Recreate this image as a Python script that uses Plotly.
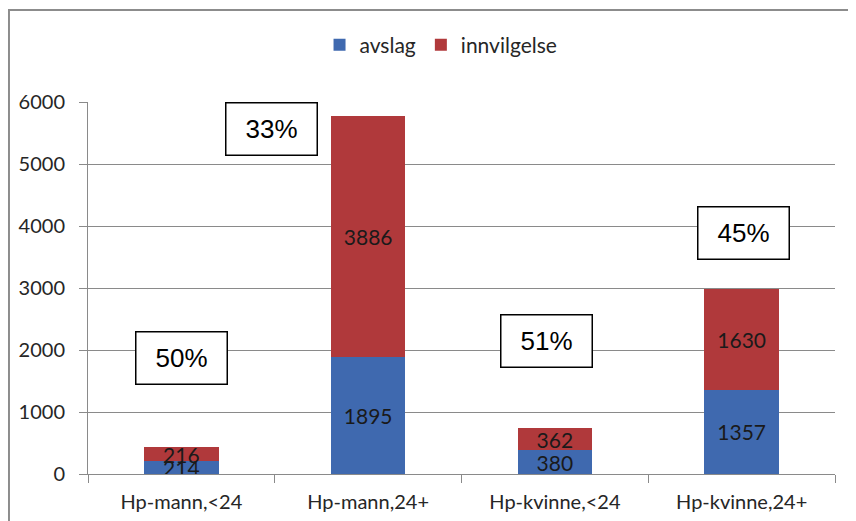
import plotly.graph_objects as go

# data
categories = ["Hp-mann,<24", "Hp-mann,24+", "Hp-kvinne,<24", "Hp-kvinne,24+"]
avslag = [214, 1895, 380, 1357]
innvilgelse = [216, 3886, 362, 1630]

# boxed percentages: (label, category position, y value)
pct_labels = ["50%", "33%", "51%", "45%"]
pct_x = [0.0, 0.48, 1.955, 3.01]
pct_y = [1870, 5565, 2145, 3890]

BLUE = "#3F69AF"
RED = "#B0393B"
GRID = "#8a8a8a"
FONT = "Lato, 'Open Sans', sans-serif"

fig = go.Figure()

fig.add_trace(go.Bar(
    x=categories, y=avslag, name="avslag",
    marker=dict(color=BLUE, line=dict(width=0)),
    text=[str(v) for v in avslag], textposition="inside",
    insidetextanchor="middle", constraintext="none",
    textfont=dict(family=FONT, size=21, color="#1a1a1a"),
))
fig.add_trace(go.Bar(
    x=categories, y=innvilgelse, name="innvilgelse",
    marker=dict(color=RED, line=dict(width=0)),
    text=[str(v) for v in innvilgelse], textposition="inside",
    insidetextanchor="middle", constraintext="none",
    textfont=dict(family=FONT, size=21, color="#1a1a1a"),
))

# percentage boxes
for lab, xx, yy in zip(pct_labels, pct_x, pct_y):
    fig.add_annotation(
        x=xx, y=yy, xref="x", yref="y", text=lab, showarrow=False,
        font=dict(family="Liberation Sans, Arial, sans-serif", size=26, color="black"),
        bordercolor="black", borderwidth=1.5, bgcolor="white",
        width=88, height=49, align="center", valign="middle",
    )

# outer chart frame (only top/left edges are visible)
fig.add_shape(type="rect", xref="paper", yref="paper",
              x0=-0.1058, x1=1.2, y0=-0.3, y1=1.247,
              line=dict(color="#8c8c8c", width=2), layer="below")

# page body adds an 8px offset, so the figure is 8px smaller
fig.update_layout(
    barmode="stack",
    bargap=0.6,
    width=848, height=513,
    margin=dict(l=80, r=21, t=94, b=47),
    paper_bgcolor="white", plot_bgcolor="white",
    font=dict(family=FONT, size=20, color="#262626"),
    showlegend=True,
    legend=dict(orientation="h", x=0.4726, y=1.153, xanchor="center", yanchor="middle",
                font=dict(family=FONT, size=21, color="#262626"),
                itemwidth=30, traceorder="normal"),
)

fig.update_yaxes(
    range=[0, 6000], dtick=1000, showgrid=True, gridcolor=GRID, gridwidth=1,
    showline=True, linecolor=GRID, linewidth=1,
    ticks="outside", ticklen=8, tickcolor=GRID, ticklabelstandoff=10,
    zeroline=False, tickfont=dict(size=20), automargin=False,
)
fig.update_xaxes(
    showline=True, linecolor=GRID, linewidth=1,
    ticks="outside", ticklen=8, tickcolor=GRID, tickson="boundaries",
    ticklabelstandoff=10, tickfont=dict(size=20), automargin=False,
)

fig.write_html("out.html")
